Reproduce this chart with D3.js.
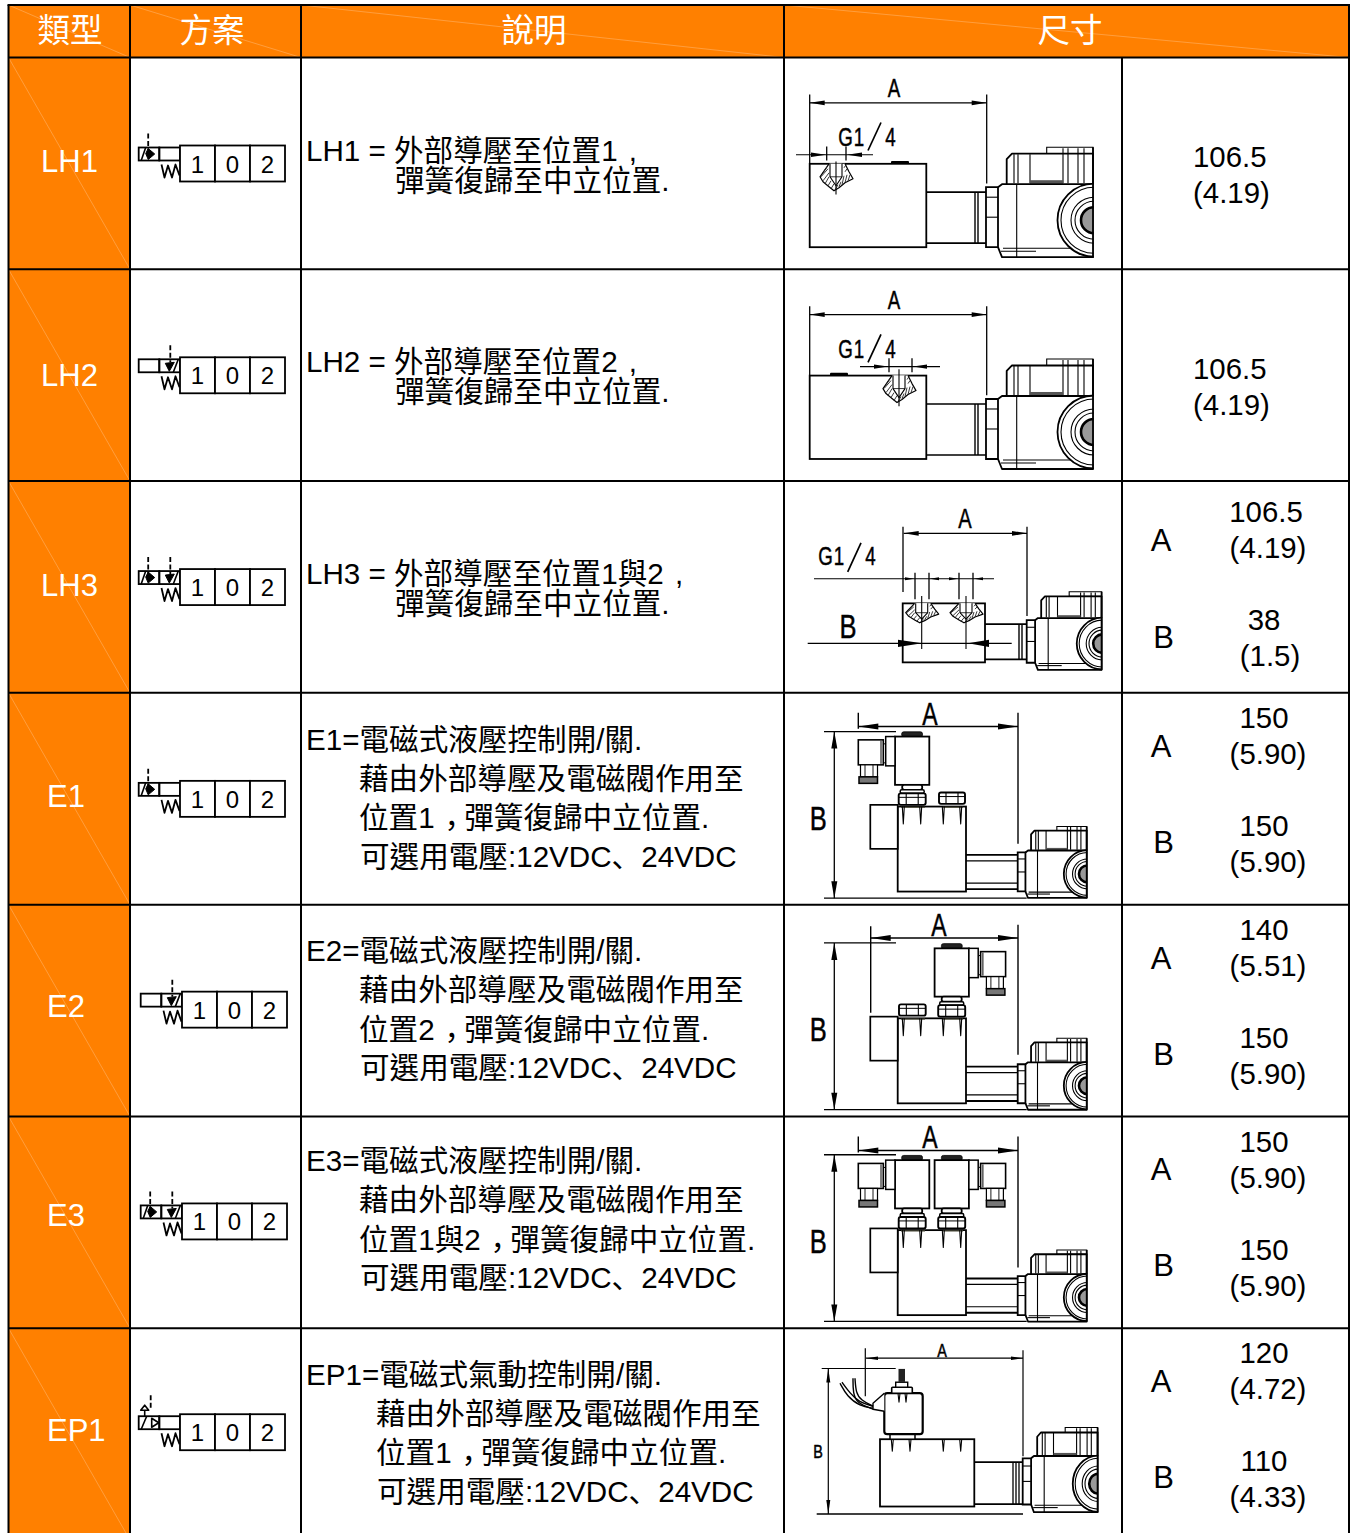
<!DOCTYPE html>
<html lang="zh-TW"><head><meta charset="utf-8">
<script src="https://cdn.jsdelivr.net/npm/d3@7"></script>
<style>html,body{margin:0;padding:0;background:#fff}svg{display:block}.coil *{vector-effect:non-scaling-stroke}</style></head><body>
<script>
const headers = ["類型","方案","說明","尺寸"];
const types = ["LH1","LH2","LH3","E1","E2","E3","EP1"];
const valveStates = ["1","0","2"];
const descriptions = [
 ["LH1 = 外部導壓至位置1 ,","彈簧復歸至中立位置."],
 ["LH2 = 外部導壓至位置2 ,","彈簧復歸至中立位置."],
 ["LH3 = 外部導壓至位置1與2 ,","彈簧復歸至中立位置."],
 ["E1=電磁式液壓控制開/關.","藉由外部導壓及電磁閥作用至","位置1，彈簧復歸中立位置.","可選用電壓:12VDC、24VDC"],
 ["E2=電磁式液壓控制開/關.","藉由外部導壓及電磁閥作用至","位置2，彈簧復歸中立位置.","可選用電壓:12VDC、24VDC"],
 ["E3=電磁式液壓控制開/關.","藉由外部導壓及電磁閥作用至","位置1與2，彈簧復歸中立位置.","可選用電壓:12VDC、24VDC"],
 ["EP1=電磁式氣動控制開/關.","藉由外部導壓及電磁閥作用至","位置1，彈簧復歸中立位置.","可選用電壓:12VDC、24VDC"]
];
const dimA_mm = ["106.5","106.5","106.5","150","140","150","120"];
const dimA_in = ["(4.19)","(4.19)","(4.19)","(5.90)","(5.51)","(5.90)","(4.72)"];
const dimB_mm = [null,null,"38","150","150","150","110"];
const dimB_in = [null,null,"(1.5)","(5.90)","(5.90)","(5.90)","(4.33)"];

// ---- layout ----
const W=1352,H=1533,ORANGE="#ff8000",LATIN='"Liberation Sans",Arial,"Noto Sans CJK TC",sans-serif';
const rowY=d3.scaleLinear().domain([0,7]).range([57.5,1540]);
const colX=d3.scaleOrdinal().domain(["l","type","scheme","desc","draw","dim","r"]).range([8.5,130,301,784,1122,1349,1349]);
const svg=d3.select("body").append("svg").attr("width",W).attr("height",H).attr("viewBox",`0 0 ${W} ${H}`);
svg.append("rect").attr("width",W).attr("height",H).attr("fill","#fff");
const defs=svg.append("defs");
let clipN=0;

function txt(g,x,y,s,size,o={}){
  return g.append("text").attr("x",x).attr("y",y).text(s)
   .attr("font-family",LATIN).attr("font-size",size).attr("fill",o.fill||"#000")
   .attr("text-anchor",o.anchor||"start");
}
// punctuation sits low in the reference's font: the text stays whole, only tspans differ
const NUDGE={"，":[2,8],"、":[0,0,'"Noto Sans CJK SC"'],",":[3,0]};
function richTxt(g,x,y,s,size){
  const t=txt(g,x,y,"",size);
  let back=[0,0];
  s.split(/([，、,])/).forEach(part=>{
    if(!part) return;
    const n=NUDGE[part];
    const dx=(n?n[0]:0)+back[0], dy=(n?n[1]:0)+back[1];
    const sp=t.append("tspan").attr("dx",dx).attr("dy",dy).text(part);
    if(n&&n[2]) sp.attr("font-family",n[2]);
    back=n?[-n[0],-n[1]]:[0,0];
  });
  return t;
}
function pl(g,pts,o={}){
  const p=d3.line().curve(o.curve||d3.curveLinear)(pts)+(o.close?"Z":"");
  return g.append("path").attr("d",p).attr("fill",o.fill||"none").attr("stroke",o.stroke||"#000")
    .attr("stroke-width",o.w||1.3).attr("stroke-dasharray",o.dash||null).attr("stroke-linejoin","round");
}
function rc(g,x0,y0,x1,y1,o={}){
  return g.append("rect").attr("x",x0).attr("y",y0).attr("width",x1-x0).attr("height",y1-y0)
   .attr("rx",o.r||0).attr("fill",o.fill||"none").attr("stroke",o.stroke||"#000").attr("stroke-width",o.w||1.4);
}
function head(g,x,y,dx,dy,len,hw){ // filled arrow with tip at x,y and pointing along dx,dy
  const bx=x-dx*len,by=y-dy*len;
  g.append("path").attr("d",`M${x},${y}L${bx-dy*hw},${by-dx*hw}L${bx+dy*hw},${by+dx*hw}Z`).attr("fill","#000");
}
function hDim(g,y,x0,x1,len=15,hw=2.4,w=1.3){ pl(g,[[x0,y],[x1,y]],{w}); head(g,x0,y,-1,0,len,hw); head(g,x1,y,1,0,len,hw); }
function vDim(g,x,y0,y1,len=17,hw=3,w=1.3){ pl(g,[[x,y0],[x,y1]],{w}); head(g,x,y0,0,-1,len,hw); head(g,x,y1,0,1,len,hw); }
function cad(g,cx,y,s,size,sx=0.72){ // narrow technical lettering
  const t=g.append("g").attr("transform",`translate(${cx},${y}) scale(${sx},1)`);
  return t.append("text").text(s).attr("text-anchor","middle").attr("font-family",LATIN).attr("font-size",size).attr("fill","#000").attr("stroke","#000").attr("stroke-width",0.5);
}
function g14(g,x0,y,slash){ // G1/4 label
  cad(g,x0+7.5,y,"G",26,0.72); cad(g,x0+21,y,"1",26,0.72);
  pl(g,slash,{w:1.7}); cad(g,slash[1][0]+9.5,y,"4",26,0.72);
}
function port(g,cx,yTop,h=1,lineTop,lineBot){
  const P=(dx,dy)=>[cx+dx,yTop+dy*h];
  pl(g,[P(-7,0),P(-16,13),P(-13,18),P(-7,23),P(-2,27),P(3,24),P(9,19),P(17,15),P(13,8),P(9,0)],{w:1.2,fill:"#fff"});
  [[-13,9,-9,3],[-15,13,-8,5],[-13,17,-7,9],[-11,20,-7,13],[-8,22,-5,17],[-5,25,-2,20],[-1,26,2,21],[3,23,5,18],[6,21,8,12],[9,19,11,11],[12,17,14,11],[9,8,11,5],[8,4,10,1]]
   .forEach(a=>pl(g,[P(a[0],a[1]),P(a[2],a[3])],{w:.9,stroke:"#222"}));
  pl(g,[P(-6,0),P(-6,13),P(0,22),P(6,13),P(6,0)],{w:1.1,fill:"#fff"});
  pl(g,[P(-6,13),P(6,13)],{w:.8});
  pl(g,[[cx,lineTop],[cx,lineBot]],{w:1.1});
}
function coil(g,x,y,sx,sy){ // the large pilot solenoid at the right end of each valve
  const id="c"+(clipN++);
  defs.append("clipPath").attr("id",id).append("rect").attr("x",-1).attr("y",-2).attr("width",108.5).attr("height",116);
  const c=g.append("g").attr("class","coil").attr("transform",`translate(${x},${y}) scale(${sx},${sy})`);
  const w=1.8, thin=1.1;
  rc(c,60.7,0,107,6.5,{w:thin,fill:"#fff"});
  pl(c,[[20.7,37],[20.7,12],[26,6.5],[107,6.5],[107,37]],{w,fill:"#fff"});
  [28,32,44,77,82,92,98].forEach(vx=>pl(c,[[vx,vx>=77?1:7],[vx,36]],{w:thin}));
  c.append("rect").attr("x",44).attr("y",33).attr("width",33).attr("height",3.5).attr("fill","#555");
  pl(c,[[12,40],[16,37],[107,37],[107,110],[16,110],[12,100]],{w,fill:"#fff"});
  pl(c,[[30.7,37],[30.7,110]],{w:thin});
  pl(c,[[17,101],[107,101]],{w:thin});
  pl(c,[[15,104],[50,104]],{w:thin});
  rc(c,0,40,12,100,{w,fill:"#fff"});
  pl(c,[[0,50],[12,50]],{w:thin}); pl(c,[[0,70],[12,70]],{w:thin});
  const k=c.append("g").attr("clip-path",`url(#${id})`);
  k.append("circle").attr("cx",108).attr("cy",73).attr("r",36.5).attr("fill","#fff").attr("stroke","#000").attr("stroke-width",w);
  [33,23,19].forEach(r=>k.append("circle").attr("cx",108).attr("cy",73).attr("r",r).attr("fill","none").attr("stroke","#000").attr("stroke-width",thin));
  k.append("circle").attr("cx",108).attr("cy",73).attr("r",13).attr("fill","#999").attr("stroke","#000").attr("stroke-width",2.6);
  pl(c,[[107,0],[107,110]],{w});
}
function block(g,x0,y0,x1,y1){ rc(g,x0,y0,x1,y1,{w:1.8,fill:"#fff"}); }
function screws(g,xs,y0,y1){
  xs.forEach(x=>{pl(g,[[x-1,y0],[x,y1],[x+1,y0]],{w:1.1});});
}
function nut(g,x0,x1,y0,y1){
  rc(g,x0,y0,x1,y1,{w:1.9,r:2,fill:"#fff"});
  const m=(x0+x1)/2;
  pl(g,[[m-6,y0],[m-6,y1]],{w:1.1}); pl(g,[[m+6,y0],[m+6,y1]],{w:1.1});
  pl(g,[[x0,y0+4],[x1,y0+4]],{w:1});
}
function solenoid(g,cx,mirror){ // small vertical pilot solenoid
  const X=x=>mirror?cx+(x-127.2)*-1:cx+(x-127.2);
  const R=(a,b,c,d,o)=>rc(g,Math.min(X(a),X(c)),b,Math.max(X(a),X(c)),d,o);
  R(116.7,39,137.5,44,{w:.8,fill:"#222",r:2});
  R(110,43.7,144.3,92,{w:1.8,fill:"#fff"});
  R(100.7,43.7,110,73,{w:1.5,fill:"#fff"});
  R(73.3,47,98.3,72,{w:1.6,fill:"#fff"});
  pl(g,[[X(98.3),50],[X(100.7),52]],{w:1}); pl(g,[[X(98.3),71],[X(100.7),69]],{w:1});
  pl(g,[[X(96),48],[X(96),71]],{w:1});
  R(75.5,72,92.5,84,{w:1.2,fill:"#fff"});
  [80,88].forEach(v=>pl(g,[[X(v),72],[X(v),84]],{w:.9}));
  R(74,84,92.5,90.5,{w:1.5,fill:"#777"});
}
function valveStem(g,cx){ // stem and nut under a solenoid, centred on cx
  rc(g,cx-10,92,cx+10,97,{w:1.8,r:2,fill:"#fff"});
  rc(g,cx-12,97,cx+12,100.5,{w:1.5,r:1.5,fill:"#fff"});
  nut(g,cx-13.5,cx+13.5,100.5,112);
}
function solenoidAssy(g,kind){
  block(g,112.7,113.7,181,198.7);
  rc(g,85.3,112,112.7,156,{w:1.7,fill:"#fff"});
  pl(g,[[181,162],[233,162]],{w:1.9}); pl(g,[[181,168],[233,168]],{w:1.2});
  pl(g,[[181,190.3],[233,190.3]],{w:1.2}); pl(g,[[181,196.3],[233,196.3]],{w:1.9});
  coil(g,232.7,133.6,0.645,0.65);
  pl(g,[[116,114.5],[140,114.5]],{w:1.2,stroke:"#554"}); pl(g,[[158,114.5],[178,114.5]],{w:1.2,stroke:"#554"});
  screws(g,[118.3,135.7,158.3,175.7],113.7,131);
  if(kind!=="R") { solenoid(g,127.2,false); valveStem(g,127.2);} else nut(g,114,140.7,99.7,111);
  if(kind!=="L") { solenoid(g,166.7,true); valveStem(g,166.7);} else nut(g,154,180,99.7,111);
}
// ---- fills & frame ----
const frameTop=5;
svg.append("rect").attr("x",colX("l")).attr("y",frameTop).attr("width",colX("r")-colX("l")).attr("height",rowY(0)-frameTop).attr("fill",ORANGE);
svg.append("rect").attr("x",colX("l")).attr("y",frameTop).attr("width",colX("type")-colX("l")).attr("height",H-frameTop).attr("fill",ORANGE);
// faint diagonals in the orange cells
const diag=[[colX("l"),frameTop,colX("type"),rowY(0)],[colX("type"),frameTop,colX("scheme"),rowY(0)],[colX("scheme"),frameTop,colX("desc"),rowY(0)],[colX("desc"),frameTop,colX("r"),rowY(0)]];
types.forEach((t,i)=>diag.push([colX("l"),rowY(i),colX("type"),rowY(i+1)]));
diag.forEach(d=>svg.append("line").attr("x1",d[0]).attr("y1",d[1]).attr("x2",d[2]).attr("y2",d[3]).attr("stroke","#ffb266").attr("stroke-width",.6));
const frame=svg.append("g").attr("stroke","#000").attr("stroke-width",2);
const hline=(y,x0,x1)=>frame.append("line").attr("x1",x0).attr("x2",x1).attr("y1",y).attr("y2",y);
const vline=(x,y0,y1)=>frame.append("line").attr("x1",x).attr("x2",x).attr("y1",y0).attr("y2",y1);
hline(frameTop,colX("l")-1,colX("r")+1);
d3.range(0,7).forEach(i=>hline(rowY(i),colX("l"),colX("r")));
["l","type","scheme","desc","r"].forEach(k=>vline(colX(k),frameTop,H));
vline(colX("draw"),rowY(0),H);

// ---- header ----
const headCx=[70,212,534,1070];
headers.forEach((h,i)=>txt(svg,headCx[i],42,h,32.5,{fill:"#fff",anchor:"middle"}));
// ---- first column ----
const labelX=[41,41,41,47,47,47,47], labelDy=[114,117,115,114,112,110,113];
types.forEach((t,i)=>txt(svg,labelX[i],rowY(i)+labelDy[i],t,31,{fill:"#fff"}));
// ---- valve symbols ----
const valveX=[180,180,180,180,182,182,180], valveDy=[88,88,88,88,87,87,86];
const valveKind=["L","R","LR","L","R","LR","P"];
types.forEach((t,i)=>{
  const x0=valveX[i],y=rowY(i)+valveDy[i],g=svg.append("g");
  const L=x0-41.3,M=x0-20.7;
  const kind=valveKind[i];
  rc(g,L,y+2,M,y+15,{w:1.8}); rc(g,M,y+2,x0,y+15,{w:1.8});
  if(kind.includes("L")){
    pl(g,[[L+2.5,y+15],[L+7,y+2]],{w:1.6});
    pl(g,[[L+9.5,y-12],[L+9.5,y+5]],{w:1.8,dash:"5,2.5"});
    pl(g,[[L+9.5,y+3],[L+16,y+8.5],[L+9.5,y+14],[L+7,y+8]],{close:true,fill:"#000",w:1});
  }
  if(kind.includes("R")){
    pl(g,[[M+11,y-12],[M+11,y+5]],{w:1.8,dash:"5,2.5"});
    pl(g,[[M+6,y+6],[M+15,y+5],[M+10,y+14]],{close:true,fill:"#000",w:1});
    pl(g,[[M+14,y+15],[M+19,y+2]],{w:1.6});
  }
  if(kind==="P"){
    pl(g,[[L+2.5,y+15],[L+8,y+2]],{w:1.6});
    pl(g,[[L+12,y-19],[L+12,y-5]],{w:1.8,dash:"5,2.5"});
    pl(g,[[L+13,y+4],[L+20,y+8.5],[L+13,y+13]],{close:true,fill:"#fff",w:1.6});
    pl(g,[[L+6,y+2],[L+6,y-4]],{w:1.6});
    pl(g,[[L+2,y-4],[L+6,y-9],[L+10,y-4]],{close:true,fill:"#fff",w:1.6});
  }
  // spring
  pl(g,[[x0-18.5,y+19],[x0-15.5,y+32],[x0-12,y+20],[x0-8,y+32],[x0-4.5,y+19],[x0-0.5,y+30]],{w:1.8});
  // three-position box
  const bx=d3.scaleBand().domain(valveStates).range([x0,x0+105]);
  valveStates.forEach(s=>{
    g.append("rect").attr("x",bx(s)).attr("y",y).attr("width",bx.bandwidth()).attr("height",36).attr("fill","#fff").attr("stroke","#000").attr("stroke-width",1.8);
    txt(g,bx(s)+bx.bandwidth()/2,y+27,s,24,{anchor:"middle"});
  });
});
// ---- descriptions ----
const descBase=[[103,133],[103,133],[103,133],[57,96,135,174],[56,95,135,173],[55,94,134,172],[57,96,135,174]];
const descIndent=[395,395,395,359,359,359,376];
descriptions.forEach((lines,i)=>lines.forEach((s,j)=>{
  richTxt(svg,j===0?306:descIndent[i]+(i>=3&&j===3?1:0),rowY(i)+descBase[i][j],s,29.6);
}));
// ---- dimensions ----
const dimFont=29.4;
[0,1].forEach(i=>{
  const dy=i===0?-1:0;
  txt(svg,1193,rowY(i)+110+dy,dimA_mm[i],dimFont);
  txt(svg,1193,rowY(i)+146+dy,dimA_in[i],dimFont);
});
d3.range(2,7).forEach(i=>{
  const t=rowY(i), base=i===2?[70,41,77,167,149,185]:[64,35,71,160,143,179];
  const dy=(i===5)?0.5:0;
  txt(svg,1161,t+base[0],"A",31,{anchor:"middle"});
  txt(svg,1163.5,t+base[3],"B",31,{anchor:"middle"});
  txt(svg,i===2?1266:1264,t+base[1]+dy,dimA_mm[i],dimFont,{anchor:"middle"});
  txt(svg,1268,t+base[2]+dy,dimA_in[i],dimFont,{anchor:"middle"});
  txt(svg,1264,t+base[4]+dy,dimB_mm[i],dimFont,{anchor:"middle"});
  txt(svg,i===2?1270:1268,t+base[5]+dy,dimB_in[i],dimFont,{anchor:"middle"});
});
// ---- technical drawings ----
const draw=i=>svg.append("g").attr("transform",`translate(785,${rowY(i)})`);
function lhBody(g,barX){
  pl(g,[[141,134.7],[201,134.7]],{w:1.7}); pl(g,[[141,185.7],[201,185.7]],{w:1.7});
  pl(g,[[190,134.7],[190,185.7]],{w:1.4}); pl(g,[[193,134.7],[193,185.7]],{w:1.4});
  block(g,24.7,106.3,141.3,189.7);
  g.append("rect").attr("x",barX).attr("y",103.5).attr("width",18).attr("height",3).attr("rx",1).attr("fill","#000");
  coil(g,201,89.7,1,1);
  hDim(g,45.3,24.7,201.7);
  pl(g,[[24.7,37],[24.7,106]],{w:1.3}); pl(g,[[201.7,37],[201.7,126]],{w:1.3});
  cad(g,109,39.7,"A",26);
}
{ // LH1
  const g=draw(0); lhBody(g,106);
  g14(g,53,88,[[83,93],[96,65]]);
  pl(g,[[11,97.3],[88,97.3]],{w:1.1});
  pl(g,[[41.7,89],[41.7,103]],{w:1.3}); pl(g,[[61,89],[61,103]],{w:1.3});
  head(g,41,97.3,1,0,15,2.2); head(g,62,97.3,-1,0,15,2.2);
  port(g,51,106.3,1,104,137);
}
{ // LH2
  const g=draw(1); lhBody(g,45);
  g14(g,53,89,[[83,93],[96,65]]);
  pl(g,[[75,97.3],[155,97.3]],{w:1.1});
  pl(g,[[104,89],[104,103]],{w:1.3}); pl(g,[[127,89],[127,103]],{w:1.3});
  head(g,103,97.3,1,0,14,2.2); head(g,128,97.3,-1,0,14,2.2);
  port(g,114,106.3,1,100,137);
}
{ // LH3
  const g=draw(2);
  pl(g,[[200,143],[241.7,143]],{w:1.7}); pl(g,[[200,178.3],[241.7,178.3]],{w:1.7});
  pl(g,[[234,143],[234,178.3]],{w:1.4}); pl(g,[[237,143],[237,178.3]],{w:1.4});
  block(g,117.7,122.3,200,181.3);
  coil(g,241.7,110.7,0.70,0.71);
  hDim(g,52.3,118.7,242);
  pl(g,[[118,45.7],[118,111]],{w:1.3}); pl(g,[[242,45.7],[242,135]],{w:1.3});
  cad(g,180,47.3,"A",28);
  g14(g,33,84,[[62.7,90.7],[76,61.7]]);
  pl(g,[[29,97.7],[209,97.7]],{w:1.1});
  [130,144,174,188].forEach(x=>pl(g,[[x,91.7],[x,118.3]],{w:1.3}));
  head(g,129,97.7,1,0,9,1.6); head(g,145,97.7,-1,0,9,1.6); head(g,173,97.7,1,0,9,1.6); head(g,189,97.7,-1,0,9,1.6);
  port(g,136.7,122.3,.72,115,168); port(g,181,122.3,.72,115,168);
  pl(g,[[22.7,162.3],[226.7,162.3]],{w:1.3});
  head(g,137,162.3,1,0,24,3.6); head(g,183,162.3,-1,0,21,3.6);
  cad(g,63,157.3,"B",34,0.75);
}
function eDims(g,aLeft,aTop,aBot,aY,aTx,aTy,by0,by1,coilExt){
  hDim(g,aY,aLeft,233,20,3,1.4);
  pl(g,[[aLeft,aTop],[aLeft,aBot]],{w:1.4}); pl(g,[[233,20],[233,coilExt]],{w:1.4});
  cad(g,aTx,aTy,"A",32);
  pl(g,[[39,by0],[111,by0]],{w:1.3}); pl(g,[[39,by1],[241.7,by1]],{w:1.3});
  vDim(g,49.3,by0,by1);
  cad(g,33.3,(by0+by1)/2+15,"B",34,0.75);
}
{ const g=draw(3); solenoidAssy(g,"L"); eDims(g,73.3,20,36,33.7,145,32,38.7,205.3,151); }
{ const g=draw(4); solenoidAssy(g,"R"); eDims(g,85.7,21.7,108,33.3,154,31,38.3,205,150); }
{ const g=draw(5); solenoidAssy(g,"LR"); eDims(g,73.3,20,36,34,145,32,38.3,205,151); }
{ // EP1
  const g=draw(6);
  pl(g,[[189,134],[238,134]],{w:1.7}); pl(g,[[189,176],[238,176]],{w:1.7});
  pl(g,[[228,134],[228,176]],{w:1.3}); pl(g,[[231,134],[231,176]],{w:1.3}); pl(g,[[234,134],[234,176]],{w:1.3});
  block(g,95,111,189.3,178.3);
  coil(g,237.7,99.3,0.7,0.77);
  rc(g,105,106,130,111,{w:1.5,fill:"#fff"});
  rc(g,99.3,65,137.7,106,{w:2.2,r:3,fill:"#fff"});
  screws(g,[107.3,125,158.3,175.7],111,123); 
  screws(g,[114,121],65,74);
  rc(g,106.7,59,127.3,65,{w:1.6,r:1,fill:"#fff"});
  rc(g,110.7,54,122.7,59,{w:1.4,fill:"#fff"});
  g.append("rect").attr("x",113.5).attr("y",40.7).attr("width",6.5).attr("height",13).attr("fill","#222");
  pl(g,[[99.3,65],[88,75],[88,81],[99.3,83]],{w:1.4,fill:"#fff"});
  pl(g,[[88,80],[75,78],[62,68],[55,55]],{curve:d3.curveBasis,w:1.4});
  pl(g,[[88,78],[74,74],[65,65],[57,54]],{curve:d3.curveBasis,w:1.4});
  pl(g,[[88,81],[72,75],[68,65],[68,50]],{curve:d3.curveBasis,w:1.4});
  pl(g,[[88,78],[76,72],[71,65],[70,50]],{curve:d3.curveBasis,w:1.4});
  hDim(g,30,81,238,12,1.8,1.2);
  pl(g,[[80.3,20],[80.3,68]],{w:1.2}); pl(g,[[238,22],[238,128]],{w:1.2});
  cad(g,157,28.3,"A",18,0.8);
  pl(g,[[36.7,40.3],[110.7,40.3]],{w:1.2}); pl(g,[[31.7,185.7],[238,185.7]],{w:1.5});
  vDim(g,43.3,40.3,185.7,14,2,1.2);
  cad(g,33,129.3,"B",18,0.8);
}
</script></body></html>
